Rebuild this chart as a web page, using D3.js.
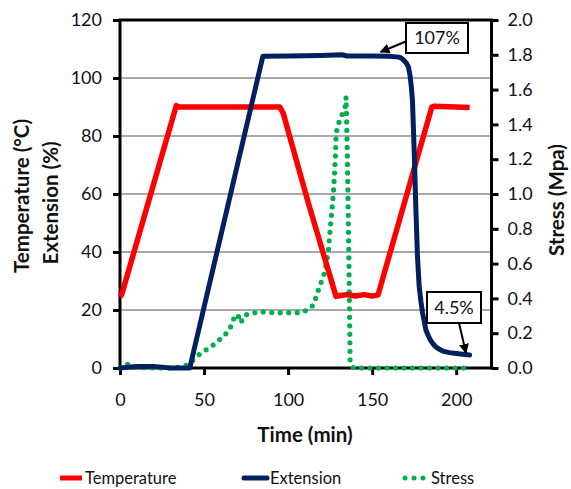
<!DOCTYPE html>
<html><head><meta charset="utf-8">
<script src="https://cdn.jsdelivr.net/npm/d3@7"></script>
<style>body{margin:0;background:#fff}text{font-family:Lato,"Open Sans",sans-serif}</style>
</head><body>
<svg id="c" width="571" height="489"></svg>
<script>
// ---- data ----
const tempTime = [0,1,33.5,35,60,95,97,112,128.5,131,135,140,145,150,153.5,185.5,187,200,208];
const tempVal  = [24.5,25.3,90.5,90,90,90,88,57,24.7,25,25.3,24.8,25.3,24.8,25.2,90,90.3,90,89.8];
const extTime = [0,5,10,20,25,30,41.5,85,100,120,132,135,140,150,160,166,167.5,169,170.5,171.5,172.5,173.3,174,175,176,177,178,179,180,181,182,183.5,185,187,189,192,196,200,208];
const extVal  = [0,0.3,0.5,0.5,0.3,0,0,107.5,107.6,107.8,108,107.6,107.6,107.6,107.5,107.2,106.8,106,105,104,101,97,92,75,55,38,28,23,19,16,13,11,9.3,7.8,6.8,5.8,5.3,5,4.5];
const stressTime = [0,4.6,7.9,12.5,15.3,19.8,24.8,29.8,34.7,40,44.2,48.6,53.6,57.5,62.1,65.5,67.5,70,71.8,74.4,78.8,83.1,87.6,92.8,97.8,103,108,112.1,115,117.1,119,121,122,123,124,125,126,127,128,128.6,130,132,133.9,134.5,135.3,136.2,136.9,138.9,208.3];
const stressVal  = [0,0.021,0.004,0.004,0,0,0,0,0.004,0.017,0.052,0.09,0.117,0.149,0.186,0.228,0.28,0.308,0.26,0.305,0.314,0.324,0.32,0.318,0.318,0.318,0.318,0.337,0.362,0.42,0.477,0.525,0.563,0.62,0.678,0.793,0.9,1.01,1.186,1.35,1.406,1.454,1.5,1.556,1.2,0.6,0.036,0,0];
const xTicks = [0,50,100,150,200];
const yLeftTicks = [0,20,40,60,80,100,120];
const yRightTicks = [0,0.2,0.4,0.6,0.8,1.0,1.2,1.4,1.6,1.8,2.0];
const seriesNames = ["Temperature","Extension","Stress"];
const annotations = [{text:"107%"},{text:"4.5%"}];

// ---- chart ----
const svg = d3.select("#c");
const L=120,R=491.5,T=20,B=368;
const x = d3.scaleLinear().domain([0,221]).range([L,R]);
const yl = d3.scaleLinear().domain([0,120]).range([B,T]);
const yr = d3.scaleLinear().domain([0,2]).range([B,T]);
const red="#FF0000", navy="#002060", green="#00B050";

// gridlines
svg.append("g").selectAll("line").data(yLeftTicks.filter(d=>d>0&&d<120)).join("line")
  .attr("x1",L).attr("x2",R).attr("y1",d=>yl(d)).attr("y2",d=>yl(d))
  .attr("stroke","#8c8c8c").attr("stroke-width",1.3);

function styleAxis(g){
  g.select(".domain").remove();
  g.selectAll(".tick line").attr("stroke","#000").attr("stroke-width",3);
  g.selectAll(".tick text").attr("font-size",18).attr("fill","#111");
}
svg.append("g").attr("transform",`translate(${L},0)`)
  .call(d3.axisLeft(yl).tickValues(yLeftTicks).tickSize(7).tickPadding(11).tickFormat(d3.format("d")))
  .call(styleAxis);
svg.append("g").attr("transform",`translate(${R},0)`)
  .call(d3.axisRight(yr).tickValues(yRightTicks).tickSize(7).tickPadding(9).tickFormat(d3.format(".1f")))
  .call(styleAxis);
svg.append("g").attr("transform",`translate(0,${B})`)
  .call(d3.axisBottom(x).tickValues(xTicks).tickSize(7).tickPadding(18).tickFormat(d3.format("d")))
  .call(styleAxis);

// border
svg.append("rect").attr("x",L).attr("y",T).attr("width",R-L).attr("height",B-T)
  .attr("fill","none").attr("stroke","#000").attr("stroke-width",3);

const plot = svg.append("g");
// stress dotted
plot.append("path").datum(d3.zip(stressTime,stressVal))
  .attr("d",d3.line().x(d=>x(d[0])).y(d=>yr(d[1])))
  .attr("fill","none").attr("stroke",green).attr("stroke-width",5.2)
  .attr("stroke-linecap","round").attr("stroke-dasharray","0 8.5");
// temperature
plot.append("path").datum(d3.zip(tempTime,tempVal))
  .attr("d",d3.line().x(d=>x(d[0])).y(d=>yl(d[1])))
  .attr("fill","none").attr("stroke",red).attr("stroke-width",5.5).attr("stroke-linejoin","round");
// extension
plot.append("path").datum(d3.zip(extTime,extVal))
  .attr("d",d3.line().x(d=>x(d[0])).y(d=>yl(d[1])))
  .attr("fill","none").attr("stroke",navy).attr("stroke-width",5).attr("stroke-linecap","round").attr("stroke-linejoin","round");

// annotations
const defs = svg.append("defs");
defs.append("marker").attr("id","ah").attr("viewBox","0 0 10 10").attr("refX",9).attr("refY",5)
  .attr("markerWidth",5).attr("markerHeight",5).attr("orient","auto")
  .append("path").attr("d","M0,0 L10,5 L0,10 z").attr("fill","#000");
function annot(text, bx, by, bw, bh, ax1, ay1, ax2, ay2){
  svg.append("line").attr("x1",ax1).attr("y1",ay1).attr("x2",ax2).attr("y2",ay2)
    .attr("stroke","#000").attr("stroke-width",2).attr("marker-end","url(#ah)");
  svg.append("rect").attr("x",bx).attr("y",by).attr("width",bw).attr("height",bh)
    .attr("fill","#fff").attr("stroke","#000").attr("stroke-width",2);
  svg.append("text").attr("x",bx+bw/2).attr("y",by+bh/2+6).attr("text-anchor","middle")
    .attr("font-size",18).attr("fill","#111").text(text);
}
annot(annotations[0].text, 406, 23, 62, 30, 407, 41, x(155), yl(107.6)-4);
annot(annotations[1].text, 427, 292, 54, 31, 459, 323, 466, 353);

// axis titles
const tfs = 20.5;
svg.append("text").attr("x",305).attr("y",442).attr("text-anchor","middle")
  .attr("font-size",tfs).attr("font-weight","bold").attr("fill","#111").text("Time (min)");
svg.append("text").attr("transform","translate(29,196) rotate(-90)").attr("text-anchor","middle")
  .attr("font-size",tfs).attr("font-weight","bold").attr("fill","#111").text("Temperature (°C)");
svg.append("text").attr("transform","translate(58,203) rotate(-90)").attr("text-anchor","middle")
  .attr("font-size",tfs).attr("font-weight","bold").attr("fill","#111").text("Extension (%)");
svg.append("text").attr("transform","translate(564,200) rotate(-90)").attr("text-anchor","middle")
  .attr("font-size",tfs).attr("font-weight","bold").attr("fill","#111").text("Stress (Mpa)");

// legend
const lg = svg.append("g");
const ly = 478;
lg.append("line").attr("x1",60).attr("x2",82).attr("y1",ly).attr("y2",ly).attr("stroke",red).attr("stroke-width",5);
lg.append("text").attr("x",85).attr("y",ly+6).attr("font-size",16.5).attr("fill","#111").text(seriesNames[0]);
lg.append("line").attr("x1",244).attr("x2",267).attr("y1",ly).attr("y2",ly).attr("stroke",navy).attr("stroke-width",5).attr("stroke-linecap","round");
lg.append("text").attr("x",270).attr("y",ly+6).attr("font-size",16.5).attr("fill","#111").text(seriesNames[1]);
lg.append("line").attr("x1",405).attr("x2",424).attr("y1",ly).attr("y2",ly).attr("stroke",green).attr("stroke-width",5)
  .attr("stroke-linecap","round").attr("stroke-dasharray","0 9");
lg.append("text").attr("x",431).attr("y",ly+6).attr("font-size",16.5).attr("fill","#111").text(seriesNames[2]);
</script>
</body></html>
